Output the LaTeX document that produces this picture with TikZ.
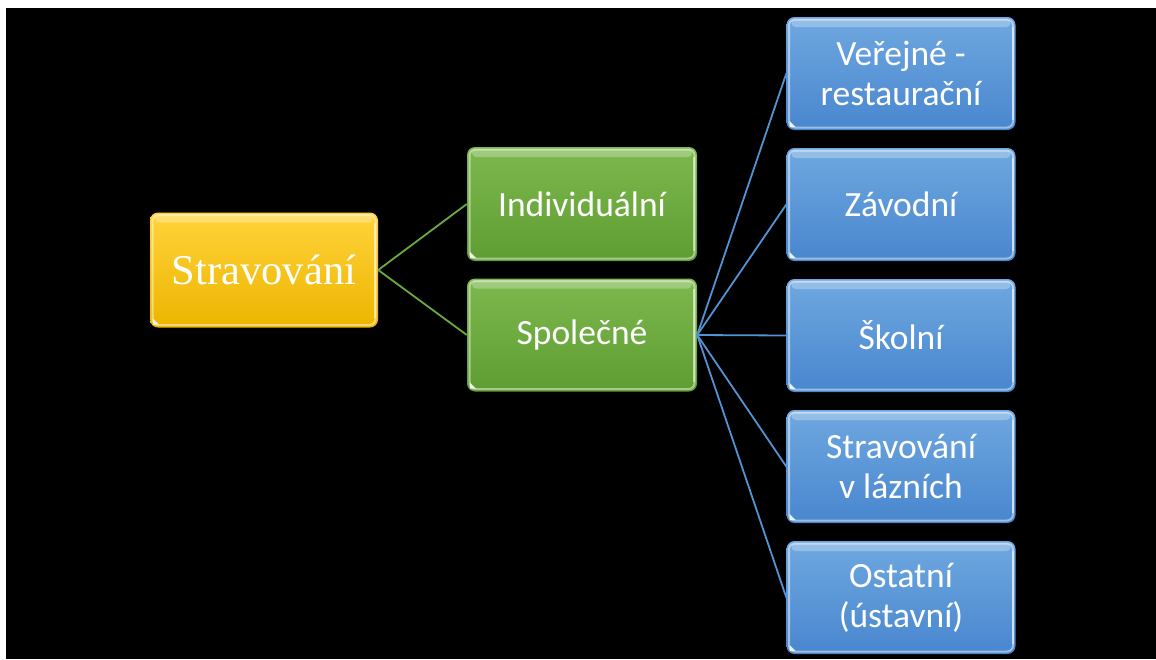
\documentclass[tikz,border=0pt]{standalone}
\usepackage{fontspec}
\newfontfamily\boxfont{Carlito}
\newfontfamily\rootfont{Liberation Serif}
\definecolor{goldtop}{HTML}{FFD33A}
\definecolor{goldbot}{HTML}{EDB500}
\definecolor{greentop}{HTML}{7DB84E}
\definecolor{greenbot}{HTML}{5E9D32}
\definecolor{bluetop}{HTML}{6FA8E0}
\definecolor{bluebot}{HTML}{4886CE}
\definecolor{greenline}{HTML}{6AAA40}
\definecolor{blueline}{HTML}{5193D4}
\tikzset{
  glossbox/.style={rounded corners=8pt, minimum width=229pt, minimum height=113pt,
    text=white, align=center, inner sep=0pt,
    path picture={
      % soft highlight along the top edge
      \fill[white, opacity=0.28, rounded corners=4pt]
        ([xshift=5pt,yshift=-2pt]path picture bounding box.north west) rectangle
        ([xshift=-5pt,yshift=-10pt]path picture bounding box.north east);
      % bevel rim
      \draw[white, opacity=0.45, line width=2pt, rounded corners=6pt]
        ([xshift=2.5pt,yshift=-2.5pt]path picture bounding box.north west) rectangle
        ([xshift=-2.5pt,yshift=2.5pt]path picture bounding box.south east);
      % brighter right-hand edge
      \draw[white, opacity=0.5, line width=2pt, sharp corners]
        ([xshift=-3pt,yshift=-10pt]path picture bounding box.north east) --
        ([xshift=-3pt,yshift=10pt]path picture bounding box.south east);
      % small corner mark
      \fill[white, opacity=0.85, sharp corners]
        ([xshift=3pt,yshift=3pt]path picture bounding box.south west) --
        ([xshift=9pt,yshift=3pt]path picture bounding box.south west) --
        ([xshift=3pt,yshift=9pt]path picture bounding box.south west) -- cycle;
    }},
  rootbox/.style={glossbox, top color=goldtop, bottom color=goldbot,
    font=\rootfont\fontsize{42.5}{48}\selectfont},
  midbox/.style={glossbox, top color=greentop, bottom color=greenbot,
    font=\boxfont\fontsize{35.5}{40}\selectfont},
  leafbox/.style={glossbox, top color=bluetop, bottom color=bluebot,
    font=\boxfont\fontsize{35.5}{40}\selectfont},
  greenlink/.style={draw=greenline, line width=1.8pt},
  bluelink/.style={draw=blueline, line width=1.8pt}
}
\begin{document}
\begin{tikzpicture}[x=1pt, y=-1pt]
  \useasboundingbox (0,0) rectangle (1156,659);
  \fill[white] (0,0) rectangle (1156,659);
  \fill[black] (6,8) rectangle (1156,659);

  % tree nodes
  \node[rootbox, minimum width=228pt, minimum height=115pt] (root) at (264,270) {Stravování};
  \node[midbox, minimum width=230pt, minimum height=114pt] (ind) at (582,204) {Individuální};
  \node[midbox, minimum width=230pt, minimum height=113pt] (spo) at (582,335) {Společné};
  \node[leafbox] (l1) at (901,73.5) {Veřejné -\\restaurační};
  \node[leafbox] (l2) at (901,204.5) {Závodní};
  \node[leafbox] (l3) at (901,335.5) {Školní};
  \node[leafbox] (l4) at (901,466.5) {Stravování\\v lázních};
  \node[leafbox] (l5) at (901,597.5) {Ostatní\\(ústavní)};

  % connectors
  \draw[greenlink] (root.east) -- (ind.west);
  \draw[greenlink] (root.east) -- (spo.west);
  \foreach \leaf in {l1,l2,l3,l4,l5}
    \draw[bluelink] (spo.east) -- (\leaf.west);
\end{tikzpicture}
\end{document}
